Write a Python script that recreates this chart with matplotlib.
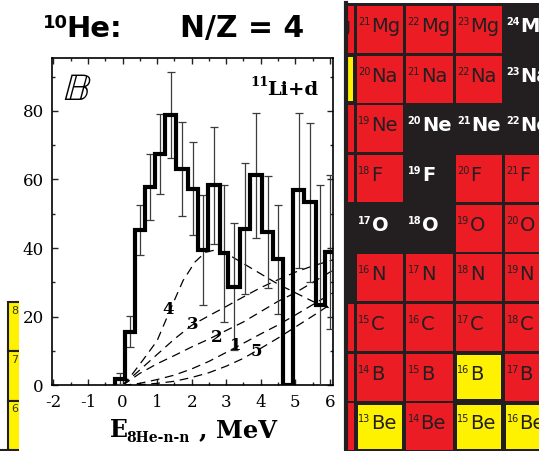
import numpy as np
import matplotlib
matplotlib.use("Agg")
import matplotlib.pyplot as plt
from matplotlib.patches import Rectangle
from matplotlib.ticker import MultipleLocator

# ---------------- spectrum: 8He-n-n relative energy, 11Li + d ----------------
bin_edges = [-0.22, 0.07, 0.36, 0.65, 0.94, 1.23, 1.56, 1.90, 2.18, 2.48, 2.81,
             3.06, 3.39, 3.69, 4.05, 4.35, 4.64, 4.93, 5.26, 5.60, 5.85, 6.15]
counts = [2.0, 15.7, 45.2, 57.8, 67.4, 78.8, 63.1, 57.3, 39.4, 58.3, 38.5,
          28.8, 45.7, 61.2, 44.7, 36.7, 0.0, 56.8, 53.4, 23.5, 38.9]
count_err = [1.5, 4.4, 7.3, 9.6, 11.6, 12.6, 13.7, 13.5, 16.0, 17.0, 20.0,
             18.6, 19.0, 18.3, 16.3, 15.8, 0.0, 22.7, 23.2, 35.0, 22.5]

# model curves (dashed), labelled 1..5
curve_E = [0.0, 0.5, 1.0, 1.5, 2.0, 2.5, 3.0, 3.5, 4.0, 4.5, 5.0, 5.5, 6.0, 6.1]
curve_1 = [0.0, 0.6, 1.7, 3.0, 4.8, 7.0, 9.6, 12.3, 15.0, 17.6, 20.5, 23.5, 26.5, 27.0]
curve_2 = [0.0, 3.5, 6.3, 8.7, 11.2, 13.5, 16.0, 18.5, 21.5, 24.5, 27.0, 30.0, 33.0, 33.6]
curve_3 = [0.0, 4.5, 9.0, 13.5, 17.5, 20.3, 23.0, 25.8, 28.5, 30.8, 33.0, 34.8, 36.3, 36.6]
curve_5 = [0.0, 0.2, 0.6, 1.2, 2.3, 3.7, 5.6, 7.9, 10.8, 13.8, 17.0, 20.2, 23.5, 24.0]
curve4_E = [0.0, 0.3, 0.6, 1.0, 1.4, 1.75, 2.1, 2.4, 2.7, 3.0, 3.5, 4.0, 4.5, 5.0, 5.5, 6.0, 6.1]
curve_4 = [0.0, 3.5, 7.5, 13.0, 22.5, 30.5, 36.0, 38.8, 39.5, 38.5, 35.5, 32.5, 29.5, 27.0, 24.5, 22.5, 22.0]
curve_tags = ["4", "3", "2", "1", "5"]
tag_E = [1.32, 2.04, 2.73, 3.27, 3.87]
tag_y = [22.0, 17.7, 14.1, 11.6, 10.0]

# ---------------- chart of nuclides ----------------
elements = ["Be", "B", "C", "N", "O", "F", "Ne", "Na", "Mg"]
proton_numbers = [4, 5, 6, 7, 8, 9, 10, 11, 12]
neutron_numbers = [8, 9, 10, 11, 12]
# s = stable, r = radioactive, y = highlighted
status = ["ryryy", "rrryr", "rrrrr", "srrrr", "sssrr",
          "rrsrr", "rrsss", "yrrrs", "rrrrs"]
strip_labels = ["8", "7", "6"]

RED, YEL, DARK = "#ec1c24", "#fff200", "#231f20"
fill = {"r": RED, "y": YEL, "s": DARK}

W, H = 539, 451
plt.rcParams["axes.unicode_minus"] = False
plt.rcParams["mathtext.fontset"] = "dejavuserif"

fig = plt.figure(figsize=(W / 100, H / 100), dpi=100)
fig.patch.set_facecolor("white")


def box(x0, y0, x1, y1):
    return [x0 / W, 1 - y1 / H, (x1 - x0) / W, (y1 - y0) / H]


def fx(x):
    return x / W


def fy(y):
    return 1 - y / H


# ---- spectrum panel ----
ax = fig.add_axes(box(52, 58, 333, 385.4))
ax.set_xlim(-2.04, 6.09)
ax.set_ylim(0, 95.4)

centers = 0.5 * (np.array(bin_edges[:-1]) + np.array(bin_edges[1:]))
c = np.array(counts)
e = np.array(count_err)
m = e > 0
ax.errorbar(centers[m], c[m], yerr=e[m], fmt="none", ecolor="#3c3c3c",
            elinewidth=0.9, capsize=2.6, capthick=0.9, zorder=3)
ax.stairs(counts, bin_edges, baseline=0, color="black", lw=3.0,
          joinstyle="miter", zorder=4)

dash = (0, (7, 4.5))
for E, y in [(curve4_E, curve_4), (curve_E, curve_3), (curve_E, curve_2),
             (curve_E, curve_1), (curve_E, curve_5)]:
    ax.plot(E, y, color="black", lw=0.9, ls=dash, zorder=2)
for tag, xe, ye in zip(curve_tags, tag_E, tag_y):
    ax.text(xe, ye, tag, fontsize=12, weight="bold", family="DejaVu Serif",
            ha="center", va="center", zorder=5)

ax.xaxis.set_major_locator(MultipleLocator(1))
ax.xaxis.set_minor_locator(MultipleLocator(0.5))
ax.yaxis.set_major_locator(MultipleLocator(20))
ax.yaxis.set_minor_locator(MultipleLocator(10))
ax.tick_params(which="both", direction="in", top=True, right=True, width=1.0,
               color="#222222")
ax.tick_params(which="major", length=4.5, labelsize=12, pad=6,
               labelfontfamily="DejaVu Serif")
ax.tick_params(which="minor", length=2.5)
for s in ax.spines.values():
    s.set_linewidth(1.2)

fig.text(fx(63), fy(100), r"$\mathbb{B}$", fontsize=28, va="baseline")
fig.text(fx(250), fy(85.5), "11", fontsize=9.5, weight="bold",
         family="DejaVu Serif", va="baseline")
fig.text(fx(267), fy(95), "Li+d", fontsize=14, weight="bold",
         family="DejaVu Serif", va="baseline")

fig.text(fx(110), fy(437), "E", fontsize=17, weight="bold",
         family="DejaVu Serif", va="baseline")
fig.text(fx(126), fy(442), "8He-n-n", fontsize=10, weight="bold",
         family="DejaVu Serif", va="baseline")
fig.text(fx(199), fy(437), ", MeV", fontsize=17.5, weight="bold",
         family="DejaVu Serif", va="baseline")

# ---- title ----
fig.text(fx(43), fy(28.5), "10", fontsize=13, weight="bold",
         family="DejaVu Sans", va="baseline")
fig.text(fx(66), fy(36.7), "He:", fontsize=21, weight="bold",
         family="DejaVu Sans", va="baseline")
fig.text(fx(180), fy(36.7), "N/Z = 4", fontsize=21.5, weight="bold",
         family="DejaVu Sans", va="baseline")

# ---- chart of nuclides ----
nz = fig.add_axes(box(346, 3, 539, 451))
nz.set_xlim(8.812, 12.716)
nz.set_ylim(4.012, 13.033)
nz.set_facecolor(DARK)
nz.set_xticks([])
nz.set_yticks([])
for side, s in nz.spines.items():
    s.set_visible(side == "left")
nz.spines["left"].set_color(DARK)
nz.spines["left"].set_linewidth(3.0)
nz.spines["left"].set_zorder(5)

gap = 0.0275
for Z, sym, row in zip(proton_numbers, elements, status):
    for N, st in zip(neutron_numbers, row):
        if st != "s":
            ins = gap + (0.025 if st == "y" else 0.0)
            nz.add_patch(Rectangle((N + ins, Z + ins), 1 - 2 * ins, 1 - 2 * ins,
                                   facecolor=fill[st], edgecolor="none"))
        col = "white" if st == "s" else DARK
        wt = "bold" if st == "s" else "normal"
        t = nz.text(N + 0.058, Z + 0.59, str(Z + N), fontsize=7.0, color=col,
                    weight=wt, family="DejaVu Sans", ha="left", va="baseline",
                    clip_on=True)
        nz.annotate(sym, xy=(1.0, Z + 0.45), xycoords=(t, "data"),
                    xytext=(0.5, 0), textcoords="offset points",
                    fontsize=14, color=col, weight=wt, family="DejaVu Sans",
                    ha="left", va="baseline", clip_on=True)

# ---- partial nuclide column at lower left ----
strip = fig.add_axes(box(0, 300, 19, 451))
strip.set_xlim(0, 19 / 49.5)
strip.set_ylim(5.98, 9.034)
strip.axis("off")
for lab in strip_labels:
    r = int(lab)
    strip.add_patch(Rectangle((0.168, r), 1.0, 1.0, facecolor=YEL,
                              edgecolor=DARK, lw=1.5, clip_on=True))
    strip.text(0.228, r + 0.82, lab, fontsize=8, color="#3a3a10",
               family="DejaVu Sans", ha="left", va="center", clip_on=True)
strip.plot([0, 0.2], [6.0, 6.0], color=DARK, lw=1.5, solid_capstyle="butt")

fig.savefig("out.png", dpi=100, facecolor="white")
